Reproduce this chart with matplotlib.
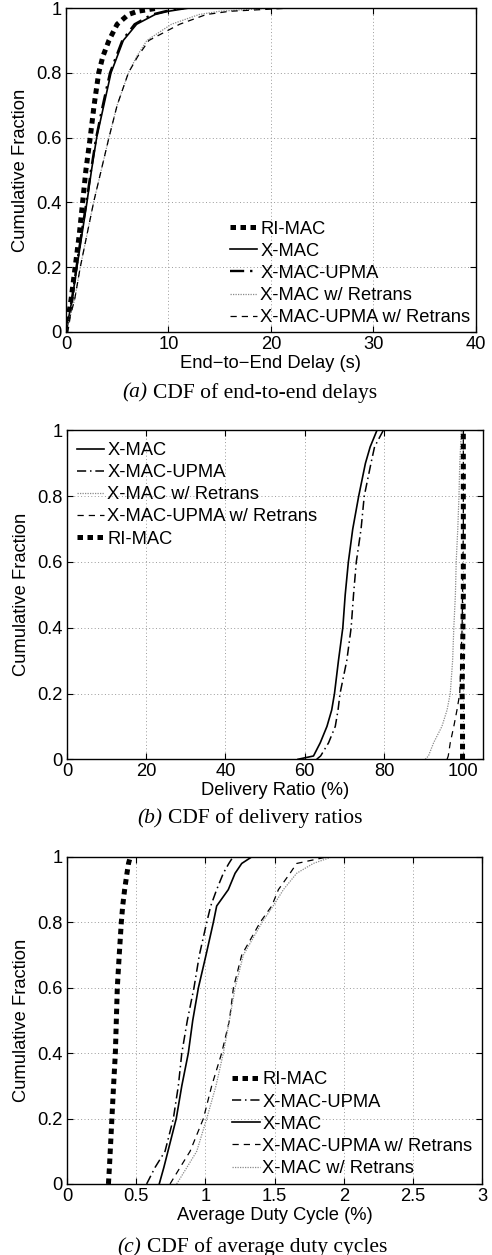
import matplotlib
matplotlib.use("Agg")
import matplotlib.pyplot as plt
from matplotlib.offsetbox import TextArea, HPacker, AnchoredOffsetbox

plt.rcParams['font.family'] = ['Liberation Sans', 'DejaVu Sans']

# ---------------- data ----------------
# (a) CDF of end-to-end delays: delay (s) at given cumulative fraction
a_levels = [0, 0.1, 0.2, 0.3, 0.4, 0.5, 0.6, 0.7, 0.8, 0.85, 0.9, 0.95, 0.98, 0.99, 1.0]
a_rimac = [0, 0.5, 0.9, 1.3, 1.63, 1.95, 2.37, 2.75, 3.2, 3.6, 4.2, 5.0, 6.1, 7.0, 9.0]
a_xmac = [0, 0.6, 1.07, 1.56, 2.05, 2.5, 3.0, 3.7, 4.4, 5.0, 5.6, 6.9, 8.7, 10.0, 12.0]
a_upma = [0, 0.58, 1.03, 1.5, 2.0, 2.45, 2.95, 3.6, 4.3, 4.9, 5.5, 6.7, 8.4, 9.7, 11.5]
a_xmac_rt = [0, 0.85, 1.4, 2.05, 2.7, 3.45, 4.2, 5.0, 6.1, 6.9, 7.9, 10.3, 13.0, 15.0, 20.0]
a_upma_rt = [0, 0.85, 1.4, 2.05, 2.7, 3.45, 4.2, 5.0, 6.1, 7.0, 8.1, 11.1, 13.7, 16.0, 22.0]

# (b) CDF of delivery ratios (%)
b_levels = [0, 0.01, 0.05, 0.1, 0.15, 0.2, 0.3, 0.4, 0.5, 0.6, 0.7, 0.8, 0.9, 0.95, 1.0]
b_xmac = [58.3, 62.2, 63.9, 65.6, 66.8, 67.5, 68.5, 69.6, 70.2, 71.0, 72.1, 73.6, 75.3, 76.5, 78.2]
b_upma = [63.0, 64.0, 66.0, 67.7, 68.4, 68.9, 70.6, 71.7, 72.3, 73.0, 74.2, 75.0, 76.7, 77.6, 79.8]
b_xmac_rt = [90.4, 91.2, 92.5, 94.6, 95.9, 96.7, 97.3, 97.6, 98.0, 98.2, 98.6, 98.9, 99.1, 99.3, 99.5]
b_upma_rt = [95.9, 96.2, 96.7, 97.6, 98.4, 99.1, 99.4, 99.7, 99.8, 99.9, 100.0, 100.0, 100.0, 100.0, 100.0]
b_rimac = [99.8, 99.8, 99.8, 99.8, 99.8, 99.7, 99.8, 99.9, 100.0, 100.0, 100.0, 100.0, 100.0, 100.0, 100.0]

# (c) CDF of average duty cycles (%)
c_levels = [0, 0.05, 0.1, 0.2, 0.3, 0.4, 0.5, 0.6, 0.7, 0.8, 0.85, 0.9, 0.95, 0.98, 1.0]
c_rimac = [0.30, 0.307, 0.313, 0.325, 0.337, 0.35, 0.357, 0.364, 0.378, 0.393, 0.403, 0.417, 0.434, 0.445, 0.458]
c_upma = [0.576, 0.636, 0.709, 0.769, 0.805, 0.83, 0.87, 0.918, 0.957, 1.01, 1.039, 1.082, 1.13, 1.17, 1.20]
c_xmac = [0.667, 0.70, 0.73, 0.79, 0.83, 0.877, 0.909, 0.95, 1.005, 1.058, 1.082, 1.166, 1.215, 1.263, 1.335]
c_upma_rt = [0.745, 0.817, 0.89, 0.986, 1.046, 1.118, 1.174, 1.203, 1.263, 1.396, 1.48, 1.528, 1.612, 1.66, 1.88]
c_xmac_rt = [0.793, 0.866, 0.938, 1.01, 1.077, 1.13, 1.174, 1.215, 1.275, 1.41, 1.49, 1.564, 1.66, 1.78, 1.914]

# ---------------- styles ----------------
STY = {
    'RI-MAC': dict(color='black', lw=3.6, linestyle=(0, (1.1, 0.9))),
    'X-MAC': dict(color='black', lw=1.2, linestyle='-'),
    'X-MAC-UPMA': dict(color='black', lw=1.1, linestyle=(0, (6, 2.5, 1, 2.5))),
    'X-MAC w/ Retrans': dict(color='#8a8a8a', lw=0.9, linestyle=(0, (1, 1))),
    'X-MAC-UPMA w/ Retrans': dict(color='black', lw=0.9, linestyle=(0, (5, 4))),
}

FS = 13.2

fig = plt.figure(figsize=(4.92, 12.55), dpi=100)


def style_axes(ax, xlim, xticks, xlabel):
    ax.set_xlim(*xlim)
    ax.set_ylim(0, 1)
    ax.set_xticks(xticks)
    ax.set_xticklabels(['%g' % t for t in xticks])
    yt = [0, 0.2, 0.4, 0.6, 0.8, 1]
    ax.set_yticks(yt)
    ax.set_yticklabels(['%g' % t for t in yt])
    ax.tick_params(direction='in', length=4, width=0.8, top=True, right=True,
                   labelsize=FS, pad=3, colors='black')
    ax.grid(True, linestyle=(0, (1, 2.5)), color='#9a9a9a', lw=0.7)
    for s in ax.spines.values():
        s.set_linewidth(1.0)
    ax.set_xlabel(xlabel, fontsize=FS, labelpad=1)
    ax.set_ylabel('Cumulative Fraction', fontsize=FS, labelpad=5)


def caption(letter, text, x, y):
    t1 = TextArea(letter, textprops=dict(family='Liberation Serif', style='italic', fontsize=15.5))
    t2 = TextArea(text, textprops=dict(family='Liberation Serif', fontsize=15.5))
    box = HPacker(children=[t1, t2], sep=4, pad=0, align='baseline')
    ab = AnchoredOffsetbox(loc='center', child=box, bbox_to_anchor=(x, y),
                           bbox_transform=fig.transFigure, frameon=False, pad=0, borderpad=0)
    fig.add_artist(ab)


def add_legend(ax, order, anchor):
    lines = {l.get_label(): l for l in ax.get_lines()}
    handles = [lines[n] for n in order]
    ax.legend(handles, order, loc='upper left', bbox_to_anchor=anchor, frameon=False,
              fontsize=FS, borderpad=0, borderaxespad=0, handlelength=1.5,
              handletextpad=0.15, labelspacing=0.28)


# (a)
axa = fig.add_axes([0.134, 0.7355, 0.833, 0.2581])
for name, xs in [('RI-MAC', a_rimac), ('X-MAC', a_xmac), ('X-MAC-UPMA', a_upma),
                 ('X-MAC w/ Retrans', a_xmac_rt), ('X-MAC-UPMA w/ Retrans', a_upma_rt)]:
    st = dict(STY[name])
    if name == 'X-MAC-UPMA':
        st['lw'] = 1.7
    axa.plot(xs, a_levels, label=name, **st)
style_axes(axa, (0, 40), [0, 10, 20, 30, 40], 'End\u2212to\u2212End Delay (s)')
add_legend(axa, ['RI-MAC', 'X-MAC', 'X-MAC-UPMA', 'X-MAC w/ Retrans', 'X-MAC-UPMA w/ Retrans'],
           (0.40, 0.344))
caption('(a)', 'CDF of end-to-end delays', 0.508, 0.687)

# (b)
axb = fig.add_axes([0.136, 0.395, 0.846, 0.262])
for name, xs in [('X-MAC', b_xmac), ('X-MAC-UPMA', b_upma), ('X-MAC w/ Retrans', b_xmac_rt),
                 ('X-MAC-UPMA w/ Retrans', b_upma_rt), ('RI-MAC', b_rimac)]:
    axb.plot(xs, b_levels, label=name, **STY[name])
style_axes(axb, (0, 105), [0, 20, 40, 60, 80, 100], 'Delivery Ratio (%)')
add_legend(axb, ['X-MAC', 'X-MAC-UPMA', 'X-MAC w/ Retrans', 'X-MAC-UPMA w/ Retrans', 'RI-MAC'],
           (0.024, 0.965))
caption('(b)', 'CDF of delivery ratios', 0.508, 0.348)

# (c)
axc = fig.add_axes([0.136, 0.0566, 0.844, 0.2606])
for name, xs in [('RI-MAC', c_rimac), ('X-MAC-UPMA', c_upma), ('X-MAC', c_xmac),
                 ('X-MAC-UPMA w/ Retrans', c_upma_rt), ('X-MAC w/ Retrans', c_xmac_rt)]:
    axc.plot(xs, c_levels, label=name, **STY[name])
style_axes(axc, (0, 3), [0, 0.5, 1, 1.5, 2, 2.5, 3], 'Average Duty Cycle (%)')
add_legend(axc, ['RI-MAC', 'X-MAC-UPMA', 'X-MAC', 'X-MAC-UPMA w/ Retrans', 'X-MAC w/ Retrans'],
           (0.398, 0.344))
caption('(c)', 'CDF of average duty cycles', 0.513, 0.0062)

fig.savefig('out.png', dpi=100)
